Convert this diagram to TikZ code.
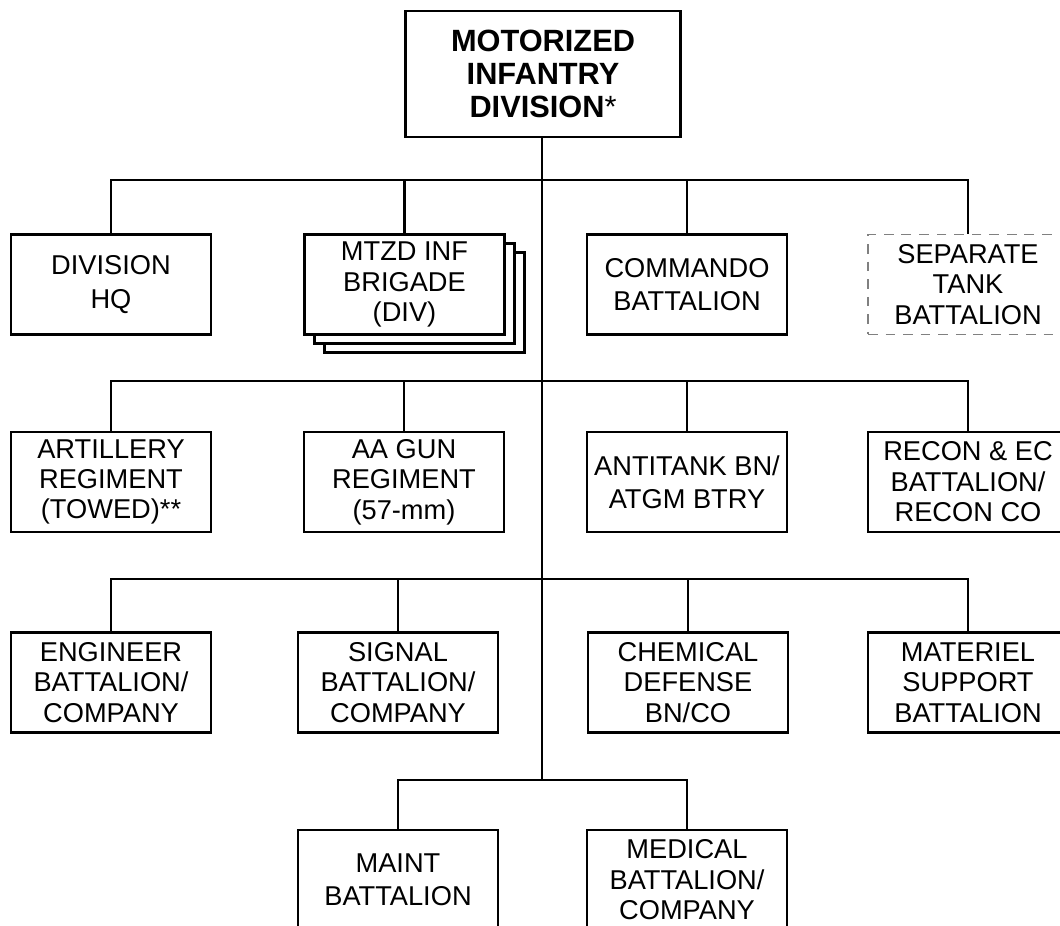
\documentclass[tikz,border=0pt]{standalone}
\usepackage{fontspec}
\setmainfont{Liberation Sans}
\usetikzlibrary{positioning}

\tikzset{
    unit/.style={draw, line width=1.4pt, fill=white, minimum width=4cm, minimum height=2cm,
        inner sep=0pt, align=center, font=\fontsize{15.5}{17.3}\selectfont},
    unittwo/.style={unit, font=\fontsize{15.5}{19}\selectfont},
    hqbox/.style={unit, minimum width=5.5cm, minimum height=2.52cm, font=\fontsize{17.5}{19}\selectfont},
    attached/.style={unit, draw=gray, line width=0.7pt, dash pattern=on 5.5pt off 4.5pt},
    link/.style={line width=1.4pt}
}

\begin{document}
\begin{tikzpicture}[x=0.02cm, y=-0.02cm]
    \clip (0,0) rectangle (1060,925);

    % Division
    \node[hqbox] (div) at (543,74) {\textbf{MOTORIZED}\\\textbf{INFANTRY}\\\textbf{DIVISION}*};

    % Buses
    \coordinate (bus1) at (542,180);
    \coordinate (bus2) at (542,381);
    \coordinate (bus3) at (542,579);
    \coordinate (bus4) at (542,780);

    % First row
    \node[unittwo] (hq) at (111,284.5) {DIVISION\\HQ};
    \node[unit] (brig3) at (424.5,302.5) {};
    \node[unit] (brig2) at (414.5,293.5) {};
    \node[unit] (brig) at (404.5,284.5) {MTZD INF\\BRIGADE\\(DIV)};
    \node[unittwo] (cdo) at (687,284.5) {COMMANDO\\BATTALION};
    \node[attached] (tank) at (968,284.5) {SEPARATE\\TANK\\BATTALION};

    % Second row
    \node[unit] (arty) at (111,482) {ARTILLERY\\REGIMENT\\(TOWED)**};
    \node[unit] (aa) at (404,482) {AA GUN\\REGIMENT\\(57-mm)};
    \node[unittwo] (at) at (687,482) {ANTITANK BN/\\ATGM BTRY};
    \node[unit] (recon) at (968,482) {RECON \& EC\\BATTALION/\\RECON CO};

    % Third row
    \node[unit] (engr) at (111,682.5) {ENGINEER\\BATTALION/\\COMPANY};
    \node[unit] (sig) at (398,682.5) {SIGNAL\\BATTALION/\\COMPANY};
    \node[unit] (chem) at (688,682.5) {CHEMICAL\\DEFENSE\\BN/CO};
    \node[unit] (mat) at (968,682.5) {MATERIEL\\SUPPORT\\BATTALION};

    % Fourth row
    \node[unittwo] (maint) at (398,880) {MAINT\\BATTALION};
    \node[unit] (med) at (687,880) {MEDICAL\\BATTALION/\\COMPANY};

    % Trunk
    \draw[link] (div.south -| bus1) -- (bus4);

    % Links
    \draw[link] (hq.north) |- (bus1) -| (tank.north);
    \draw[link] (brig.north) -- (brig.north |- bus1);
    \draw[link] (cdo.north) -- (cdo.north |- bus1);

    \draw[link] (arty.north) |- (bus2) -| (recon.north);
    \draw[link] (aa.north) -- (aa.north |- bus2);
    \draw[link] (at.north) -- (at.north |- bus2);

    \draw[link] (engr.north) |- (bus3) -| (mat.north);
    \draw[link] (sig.north) -- (sig.north |- bus3);
    \draw[link] (chem.north) -- (chem.north |- bus3);

    \draw[link] (maint.north) |- (bus4) -| (med.north);
\end{tikzpicture}
\end{document}
